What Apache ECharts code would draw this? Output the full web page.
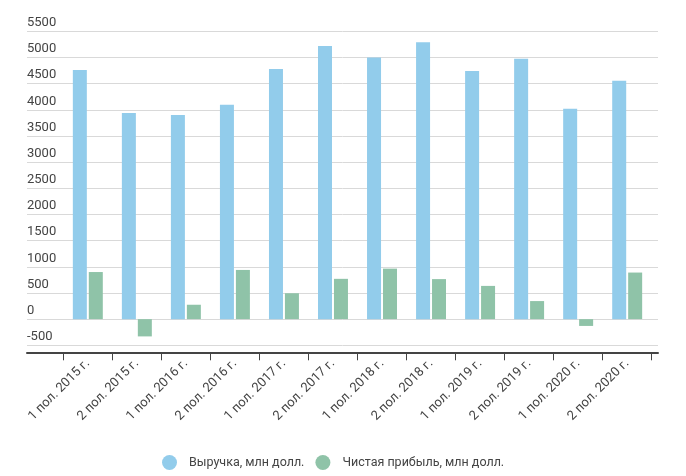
<!DOCTYPE html>
<html>
<head>
<meta charset="utf-8">
<script src="https://cdn.jsdelivr.net/npm/echarts@6/dist/echarts.min.js"></script>
<style>
html,body{margin:0;padding:0;background:#fff;}
#chart{width:686px;height:476px;}
</style>
</head>
<body>
<div id="chart"></div>
<script>
const categories = ["1 пол. 2015 г.","2 пол. 2015 г.","1 пол. 2016 г.","2 пол. 2016 г.","1 пол. 2017 г.","2 пол. 2017 г.","1 пол. 2018 г.","2 пол. 2018 г.","1 пол. 2019 г.","2 пол. 2019 г.","1 пол. 2020 г.","2 пол. 2020 г."];
const revenue = [4760, 3940, 3900, 4095, 4780, 5220, 5000, 5290, 4740, 4975, 4020, 4555];
const netProfit = [900, -330, 275, 940, 495, 770, 965, 765, 635, 345, -130, 890];
const seriesNames = ["Выручка, млн долл.", "Чистая прибыль, млн долл."];
const yMin = -500, yMax = 5500, yStep = 500;

const chart = echarts.init(document.getElementById('chart'), null, {renderer:'canvas'});
const font = 'Roboto';
const option = {
  animation: false,
  color: ['#92cceb', '#8fc3a8'],
  textStyle: {fontFamily: font},
  grid: [
    {left: 27, right: 28, top: 31.3, bottom: 130.7},
    {left: 63.3, right: 34.3, top: 31.3, bottom: 130.7}
  ],
  legend: {
    left: 162, top: 455, padding: 0,
    icon: 'circle',
    itemWidth: 15, itemHeight: 15, itemGap: 11,
    textStyle: {fontFamily: font, fontSize: 12.5, color: '#444', padding: [0,0,0,7]},
    data: seriesNames
  },
  xAxis: [
    {
      gridIndex: 0, type: 'category', data: categories,
      offset: 7,
      axisLine: {show: true, onZero: false, lineStyle: {color: '#444', width: 2}},
      axisTick: {show: false}, axisLabel: {show: false}, splitLine: {show: false}
    },
    {
      gridIndex: 1, type: 'category', data: categories,
      offset: 7,
      axisLine: {show: false, onZero: false},
      axisTick: {show: true, length: 8, lineStyle: {color: '#444', width: 1}},
      axisLabel: {rotate: 45, fontSize: 13, color: '#444', fontFamily: font, margin: 9, interval: 0},
      splitLine: {show: false}
    }
  ],
  yAxis: [
    {
      gridIndex: 0, type: 'value', min: yMin, max: yMax, interval: yStep,
      axisLine: {show: false}, axisTick: {show: false},
      axisLabel: {inside: true, margin: 0, fontSize: 13, color: '#444', fontFamily: font, verticalAlign: 'bottom', padding: [0,0,2,0], formatter: v => String(v)},
      splitLine: {lineStyle: {color: '#d9d9d9', width: 1}}
    },
    {
      gridIndex: 1, type: 'value', min: yMin, max: yMax, interval: yStep,
      axisLine: {show: false}, axisTick: {show: false}, axisLabel: {show: false}, splitLine: {show: false}
    }
  ],
  series: [
    {name: seriesNames[0], type: 'bar', xAxisIndex: 1, yAxisIndex: 1, data: revenue, barWidth: 14, barGap: '14%'},
    {name: seriesNames[1], type: 'bar', xAxisIndex: 1, yAxisIndex: 1, data: netProfit, barWidth: 14, barGap: '14%'}
  ]
};
chart.setOption(option);
</script>
</body>
</html>
